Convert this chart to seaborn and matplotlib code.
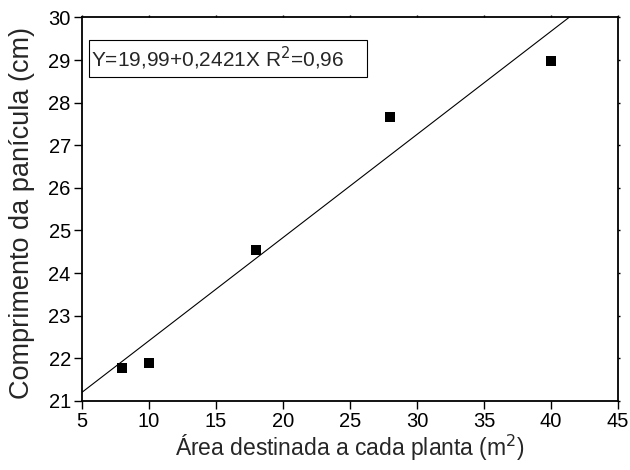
import numpy as np
import pandas as pd
import matplotlib
matplotlib.use("Agg")
import matplotlib.pyplot as plt
from matplotlib.patches import Rectangle
import seaborn as sns

# data
area = [8, 10, 18, 28, 40]
comprimento = [21.77, 21.9, 24.55, 27.67, 28.97]
intercept = 19.99
slope = 0.2421
x_ticks = [5, 10, 15, 20, 25, 30, 35, 40, 45]
y_ticks = [21, 22, 23, 24, 25, 26, 27, 28, 29, 30]

sns.set_style("white")
plt.rcParams['font.family'] = ['Liberation Sans', 'DejaVu Sans']

fig = plt.figure(figsize=(6.3, 4.7), dpi=100)
ax = fig.add_axes([0.130, 0.147, 0.851, 0.816])

df = pd.DataFrame({'x': area, 'y': comprimento})
fit_x = np.array([x_ticks[0], x_ticks[-1]])
fit = pd.DataFrame({'x': fit_x, 'y': intercept + slope * fit_x})

sns.lineplot(data=fit, x='x', y='y', color='black', linewidth=0.8, ax=ax)
sns.scatterplot(data=df, x='x', y='y', marker='s', s=60, color='black',
                edgecolor='black', linewidth=0, ax=ax, zorder=3)

ax.set_xlim(5, 45)
ax.set_ylim(21, 30)
ax.set_xticks(x_ticks)
ax.set_yticks(y_ticks)
ax.tick_params(axis='both', which='major', labelsize=14.5, direction='out',
               length=6, width=1, color='black', labelcolor='black',
               bottom=True, left=True, pad=2)
# mirrored axes only carry tiny ticks
ax.tick_params(axis='x', top=True, labeltop=False)
ax.tick_params(axis='y', right=True, labelright=False)
for t in ax.xaxis.get_major_ticks():
    t.tick2line.set_markersize(1.5)
for t in ax.yaxis.get_major_ticks():
    t.tick2line.set_markersize(1.5)
for spine in ax.spines.values():
    spine.set_color('black')
    spine.set_linewidth(1.3)

ax.set_xlabel('Área destinada a cada planta (m$^2$)', fontsize=16.5, labelpad=1)
ax.set_ylabel('Comprimento da panícula (cm)', fontsize=19.5)
ax.yaxis.set_label_coords(-0.088, 0.49)

# equation box
ax.add_patch(Rectangle((5.5, 28.59), 20.8, 0.89, facecolor='white',
                       edgecolor='black', linewidth=0.8, zorder=4))
ax.text(5.66, 29.04, 'Y=19,99+0,2421X R$^2$=0,96', fontsize=15,
        va='center', ha='left', zorder=5)

fig.savefig('out.png', dpi=100)
